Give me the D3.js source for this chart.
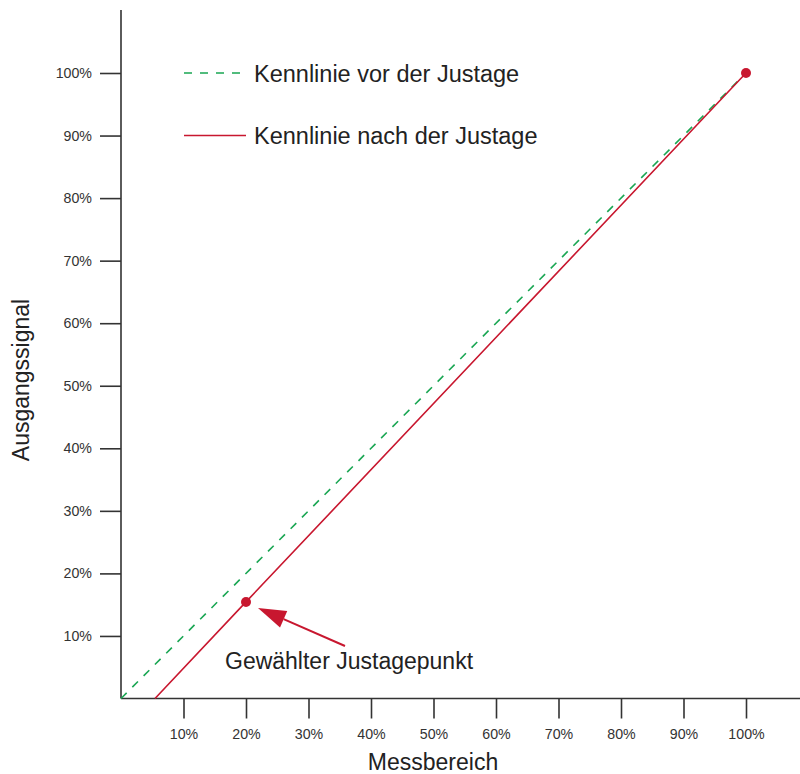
<!DOCTYPE html>
<html>
<head>
<meta charset="utf-8">
<script src="https://cdn.jsdelivr.net/npm/d3@7"></script>
<style>
  body { margin: 0; background: #fff; }
  svg { display: block; font-family: "Liberation Sans", Arial, sans-serif; }
</style>
</head>
<body>
<div id="chart"></div>
<script>
/* Kennlinie vor / nach der Justage */
const ticks = [10, 20, 30, 40, 50, 60, 70, 80, 90, 100];
const vorX = [0, 100];
const vorY = [0, 100];
const nachX = [5.44, 20, 100];
const nachY = [0, 15.44, 100];
const justagePunkte = [[20, 15.44], [100, 100]];
const legendLabels = ['Kennlinie vor der Justage', 'Kennlinie nach der Justage'];

const W = 800, H = 774;
const GREEN = '#1aa653', RED = '#c8172f', INK = '#222';

const x = d3.scaleLinear().domain([0, 100]).range([121, 746]);
const y = d3.scaleLinear().domain([0, 100]).range([698.5, 73]);

const svg = d3.select('#chart').append('svg').attr('width', W).attr('height', H);

// Achsen
const gx = svg.append('g').attr('transform', 'translate(0,698.5)')
  .call(d3.axisBottom(x).tickValues(ticks).tickFormat(d => d + '%').tickSize(20).tickSizeOuter(0));
const gy = svg.append('g').attr('transform', 'translate(121,0)')
  .call(d3.axisLeft(y).tickValues(ticks).tickFormat(d => d + '%').tickSize(21).tickSizeOuter(0));
[gx, gy].forEach(g => {
  g.select('.domain').remove();
  g.selectAll('.tick line').attr('stroke', '#333').attr('stroke-width', 1.6);
  g.selectAll('.tick text').attr('font-size', 14.2).attr('fill', '#333')
    .attr('font-family', '"Liberation Sans", Arial, sans-serif');
});
gx.selectAll('.tick text').attr('dy', '0.71em').attr('y', 30);
gy.selectAll('.tick text').attr('x', -29);

svg.append('line').attr('x1', 121).attr('x2', 121).attr('y1', 10).attr('y2', 698.5)
  .attr('stroke', '#333').attr('stroke-width', 1.6);
svg.append('line').attr('x1', 121).attr('x2', 800).attr('y1', 698.5).attr('y2', 698.5)
  .attr('stroke', '#333').attr('stroke-width', 1.6);

// Achsentitel
svg.append('text').attr('x', 433).attr('y', 770).attr('text-anchor', 'middle')
  .attr('font-size', 23).attr('fill', INK).text('Messbereich');
svg.append('text').attr('transform', 'translate(29,380) rotate(-90)').attr('text-anchor', 'middle')
  .attr('font-size', 23).attr('fill', INK).text('Ausgangssignal');

// Kennlinien
const line = d3.line().x(d => x(d[0])).y(d => y(d[1]));
svg.append('path').datum(d3.zip(vorX, vorY)).attr('d', line)
  .attr('fill', 'none').attr('stroke', GREEN).attr('stroke-width', 1.6).attr('stroke-dasharray', '8,8');
svg.append('path').datum(d3.zip(nachX, nachY)).attr('d', line)
  .attr('fill', 'none').attr('stroke', RED).attr('stroke-width', 1.6);

svg.selectAll('circle.pt').data(justagePunkte).enter().append('circle')
  .attr('class', 'pt').attr('cx', d => x(d[0])).attr('cy', d => y(d[1])).attr('r', 5)
  .attr('fill', RED);

// Legende
const leg = svg.append('g');
legendLabels.forEach((t, i) => {
  const ly = 73 + i * 62.5;
  leg.append('line').attr('x1', 184).attr('x2', 246).attr('y1', ly).attr('y2', ly)
    .attr('stroke', i === 0 ? GREEN : RED).attr('stroke-width', 1.6)
    .attr('stroke-dasharray', i === 0 ? '8,8' : null);
  leg.append('text').attr('x', 254).attr('y', ly + 8.5).attr('font-size', 23.5)
    .attr('fill', INK).text(t);
});

// Pfeil zum Justagepunkt
const p = justagePunkte[0];
const tipX = x(p[0]) + 12, tipY = y(p[1]) + 6;
const tailX = 345, tailY = 646;
const ang = Math.atan2(tailY - tipY, tailX - tipX);
const hl = 28, hw = 9;
const bx = tipX + hl * Math.cos(ang), by = tipY + hl * Math.sin(ang);
svg.append('line').attr('x1', bx).attr('y1', by).attr('x2', tailX).attr('y2', tailY)
  .attr('stroke', RED).attr('stroke-width', 2);
svg.append('path')
  .attr('d', `M${tipX},${tipY}L${bx - hw * Math.sin(ang)},${by + hw * Math.cos(ang)}L${bx + hw * Math.sin(ang)},${by - hw * Math.cos(ang)}Z`)
  .attr('fill', RED);
svg.append('text').attr('x', 225).attr('y', 669).attr('font-size', 23).attr('fill', INK)
  .text('Gewählter Justagepunkt');
</script>
</body>
</html>
